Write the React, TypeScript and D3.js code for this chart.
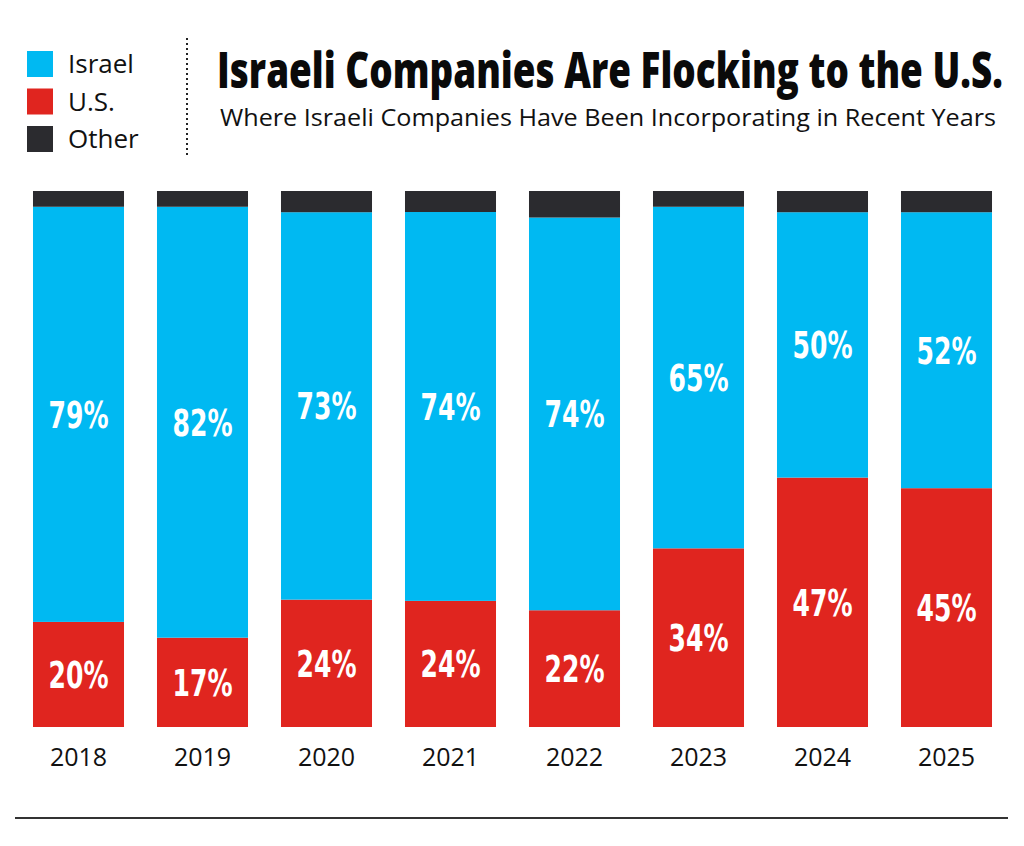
import React, { useEffect, useRef } from 'react'
import * as d3 from 'd3'

// Data
const years = ['2018', '2019', '2020', '2021', '2022', '2023', '2024', '2025']
const israel = [79, 82, 73, 74, 74, 65, 50, 52]
const us = [20, 17, 24, 24, 22, 34, 47, 45]
// "Other" is not labelled; estimated from the dark caps
const other = [3, 3, 4, 4, 5, 3, 4, 4]

const legendLabels = ['Israel', 'U.S.', 'Other']
const title = 'Israeli Companies Are Flocking to the U.S.'
const subtitle = 'Where Israeli Companies Have Been Incorporating in Recent Years'

const colors: Record<string, string> = {
    israel: '#00b9f2',
    us: '#e0251f',
    other: '#2b2b2f'
}

const width = 1024
const height = 846
const barTop = 191
const barBottom = 727

const condensed = "'Liberation Sans Narrow', 'DejaVu Sans Condensed', 'Roboto', sans-serif"
const sans = "'Open Sans', 'Noto Sans', sans-serif"

export default function App() {
    const ref = useRef<SVGSVGElement>(null)

    useEffect(() => {
        const svg = d3.select(ref.current)
        svg.selectAll('*').remove()

        const rows = years.map((year, i) => ({
            year,
            us: us[i],
            israel: israel[i],
            other: other[i]
        }))

        const keys = ['us', 'israel', 'other']
        const series = d3.stack<any>()
            .keys(keys)
            .offset(d3.stackOffsetExpand)(rows)

        // Scales
        const xScale = d3.scaleBand()
            .domain(years)
            .range([16.5, 1008.5])
            .paddingInner(0.266)
            .paddingOuter(0.133)
        const yScale = d3.scaleLinear()
            .domain([0, 1])
            .range([barBottom, barTop])

        // Background
        svg.append('rect')
            .attr('width', width)
            .attr('height', height)
            .attr('fill', '#ffffff')

        // Stacked bars
        series.forEach((s) => {
            svg.append('g')
                .selectAll('rect')
                .data(s)
                .join('rect')
                .attr('x', (d: any) => xScale(d.data.year)!)
                .attr('width', xScale.bandwidth())
                .attr('y', (d) => yScale(d[1]))
                .attr('height', (d) => yScale(d[0]) - yScale(d[1]))
                .attr('fill', colors[s.key])
        })

        // Percentage labels for Israel and U.S.
        series.filter((s) => s.key !== 'other').forEach((s) => {
            svg.append('g')
                .selectAll('text')
                .data(s)
                .join('text')
                .text((d: any) => d.data[s.key] + '%')
                .attr('x', (d: any) => xScale(d.data.year)! + xScale.bandwidth() / 2)
                .attr('y', (d) => (yScale(d[0]) + yScale(d[1])) / 2)
                .attr('dy', '0.36em')
                .attr('text-anchor', 'middle')
                .attr('textLength', 60)
                .attr('lengthAdjust', 'spacingAndGlyphs')
                .attr('font-family', condensed)
                .attr('font-weight', 'bold')
                .attr('font-size', '37px')
                .attr('fill', '#ffffff')
        })

        // Year labels
        svg.append('g')
            .selectAll('text')
            .data(years)
            .join('text')
            .text((d) => d)
            .attr('x', (d) => xScale(d)! + xScale.bandwidth() / 2)
            .attr('y', 766)
            .attr('text-anchor', 'middle')
            .attr('font-family', sans)
            .attr('font-size', '25px')
            .attr('fill', '#111111')

        // Bottom rule
        svg.append('line')
            .attr('x1', 15)
            .attr('x2', 1008)
            .attr('y1', 818)
            .attr('y2', 818)
            .attr('stroke', '#333333')
            .attr('stroke-width', 2)

        // Legend
        const legendColors = [colors.israel, colors.us, colors.other]
        const legend = svg.append('g')
        legendLabels.forEach((label, i) => {
            legend.append('rect')
                .attr('x', 27)
                .attr('y', 51 + i * 37.5)
                .attr('width', 26)
                .attr('height', 26)
                .attr('fill', legendColors[i])
            legend.append('text')
                .text(label)
                .attr('x', 68)
                .attr('y', 73 + i * 37.5)
                .attr('font-family', sans)
                .attr('font-size', '26px')
                .attr('fill', '#111111')
        })

        // Dotted divider
        svg.append('line')
            .attr('x1', 187)
            .attr('x2', 187)
            .attr('y1', 38)
            .attr('y2', 156)
            .attr('stroke', '#222222')
            .attr('stroke-width', 2)
            .attr('stroke-dasharray', '2,3')

        // Title: squeeze horizontally to fit the header width
        const titleG = svg.append('g')
        const titleText = titleG.append('text')
            .text(title)
            .attr('font-family', sans)
            .attr('font-weight', 800)
            .attr('font-size', '50px')
            .attr('fill', '#0a0a0a')
        const natural = (titleText.node() as SVGTextElement).getComputedTextLength() || 786
        titleG.attr('transform', `translate(217,88) scale(${786 / natural},1)`)

        svg.append('text')
            .text(subtitle)
            .attr('x', 220)
            .attr('y', 126)
            .attr('textLength', 776)
            .attr('lengthAdjust', 'spacingAndGlyphs')
            .attr('font-family', sans)
            .attr('font-size', '24px')
            .attr('fill', '#111111')
    }, [])

    return (
        <svg
            ref={ref}
            width={width}
            height={height}
            style={{ position: 'absolute', left: 0, top: 0, display: 'block' }}
        />
    )
}
